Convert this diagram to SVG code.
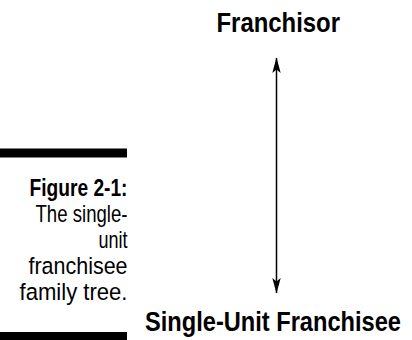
<svg xmlns="http://www.w3.org/2000/svg" width="412" height="340" viewBox="0 0 412 340">
  <style>
    .node { font-family: "Liberation Sans", Arial, sans-serif; font-weight: bold; font-size: 27px; fill: #000; }
    .capb { font-family: "Liberation Sans", Arial, sans-serif; font-weight: bold; font-size: 23.5px; fill: #000; }
    .cap { font-family: "Liberation Sans", Arial, sans-serif; font-size: 24.5px; fill: #000; }
    .conn { stroke: #000; stroke-width: 1.5; fill: none; }
  </style>
  <defs>
    <marker id="arrow" markerUnits="userSpaceOnUse" markerWidth="18" markerHeight="10" viewBox="0 -5 16 10" refX="15" refY="0" orient="auto-start-reverse">
      <path d="M0,-4.2 L15.5,0 L0,4.2 L3.5,0 Z" fill="#000"/>
    </marker>
  </defs>
  <rect width="412" height="340" fill="#fff"/>
  <g id="caption">
    <rect x="0" y="148.5" width="127" height="9" fill="#000"/>
    <text class="capb" x="127.5" y="196" text-anchor="end" textLength="98" lengthAdjust="spacingAndGlyphs">Figure 2-1:</text>
    <text class="cap" x="127.5" y="222" text-anchor="end" textLength="92" lengthAdjust="spacingAndGlyphs">The single-</text>
    <text class="cap" x="127.5" y="248" text-anchor="end" textLength="29" lengthAdjust="spacingAndGlyphs">unit</text>
    <text class="cap" x="127.5" y="274" text-anchor="end" textLength="99" lengthAdjust="spacingAndGlyphs">franchisee</text>
    <text class="cap" x="127.5" y="300" text-anchor="end" textLength="108" lengthAdjust="spacingAndGlyphs">family tree.</text>
    <rect x="0" y="332" width="127" height="8" fill="#000"/>
  </g>
  <g id="franchisor">
    <text class="node" x="216.5" y="31.5" textLength="123.5" lengthAdjust="spacingAndGlyphs">Franchisor</text>
  </g>
  <g id="single-unit-franchisee">
    <text class="node" style="font-size:24px" transform="translate(145,331) scale(1,1.12)" x="0" y="0" textLength="256" lengthAdjust="spacingAndGlyphs">Single-Unit Franchisee</text>
  </g>
  <g id="connectors">
    <line class="conn" x1="276.5" y1="58" x2="276.5" y2="293" marker-start="url(#arrow)" marker-end="url(#arrow)"/>
  </g>
</svg>
